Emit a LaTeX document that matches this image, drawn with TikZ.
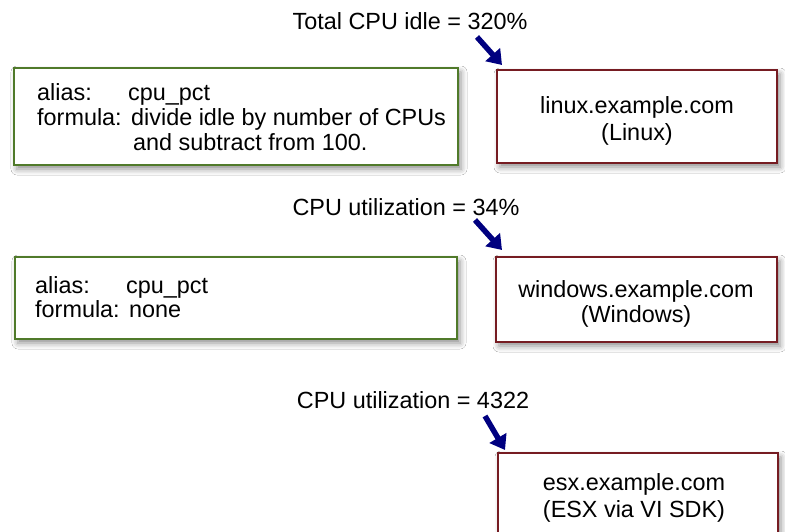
\documentclass[tikz,border=0pt]{standalone}
\usepackage{fontspec}
\setmainfont{Liberation Sans}
\usetikzlibrary{arrows.meta,shadows.blur}
\definecolor{boxgreen}{RGB}{80,122,42}
\definecolor{boxred}{RGB}{118,28,34}
\definecolor{arrblue}{RGB}{0,0,128}
\tikzset{
 hostbox/.style={draw=boxred, line width=2.4pt, fill=white, rectangle, anchor=north west,
   inner sep=0pt, outer sep=0pt,
   blur shadow={shadow xshift=3pt, shadow yshift=-4pt, shadow blur radius=6pt, shadow opacity=45}},
 aliasbox/.style={hostbox, draw=boxgreen},
 txt/.style={inner sep=0pt, anchor=base, font=\fontsize{23.4}{25}\selectfont},
 ltxt/.style={txt, anchor=base west},
 ptr/.style={draw=arrblue, line width=5.5pt, -{Triangle[length=14pt,width=19pt]}}
}
\begin{document}
\begin{tikzpicture}[x=1pt,y=-1pt]
\useasboundingbox[fill=white] (0,0) rectangle (785,531);
% boxes
\node[aliasbox, minimum width=444pt, minimum height=97pt] (f1) at (14,68) {};
\node[hostbox, minimum width=280pt, minimum height=93pt] (linux) at (497,70) {};
\node[aliasbox, minimum width=442pt, minimum height=82pt] (f2) at (15,257) {};
\node[hostbox, minimum width=281pt, minimum height=85pt] (win) at (496,257) {};
\node[hostbox, minimum width=280pt, minimum height=110pt] (esx) at (498,453) {};
% labels
\node[txt] (t1) at (410,29) {Total CPU idle = 320\%};
\node[txt] (t2) at (406,215) {CPU utilization = 34\%};
\node[txt] (t3) at (413,408) {CPU utilization = 4322};
% host texts
\node[txt] (l1) at (637,113) {linux.example.com};
\node[txt] (l2) at (637,140) {(Linux)};
\node[txt] (w1) at (636,297) {windows.example.com};
\node[txt] (w2) at (636,322) {(Windows)};
\node[txt] (e1) at (634,490) {esx.example.com};
\node[txt] (e2) at (634,517) {(ESX via VI SDK)};
% alias texts
\node[ltxt] (a1k) at (37,100) {alias:};
\node[ltxt] (a1v) at (128,100) {cpu\_pct};
\node[ltxt] (f1k) at (37,125) {formula:};
\node[ltxt] (f1v) at (131,125) {divide idle by number of CPUs};
\node[ltxt] (f1w) at (133,150) {and subtract from 100.};
\node[ltxt] (a2k) at (35,293) {alias:};
\node[ltxt] (a2v) at (126,293) {cpu\_pct};
\node[ltxt] (f2k) at (35,317) {formula:};
\node[ltxt] (f2v) at (129,317) {none};
% arrows
\coordinate (p1) at (477,37);
\coordinate (p2) at (475,220);
\coordinate (p3) at (485,416);
\draw[ptr] (p1) -- ([shift={(5,-5)}]linux.north west);
\draw[ptr] (p2) -- ([shift={(6,-7)}]win.north west);
\draw[ptr] (p3) -- ([shift={(7,-3)}]esx.north west);
\end{tikzpicture}
\end{document}
